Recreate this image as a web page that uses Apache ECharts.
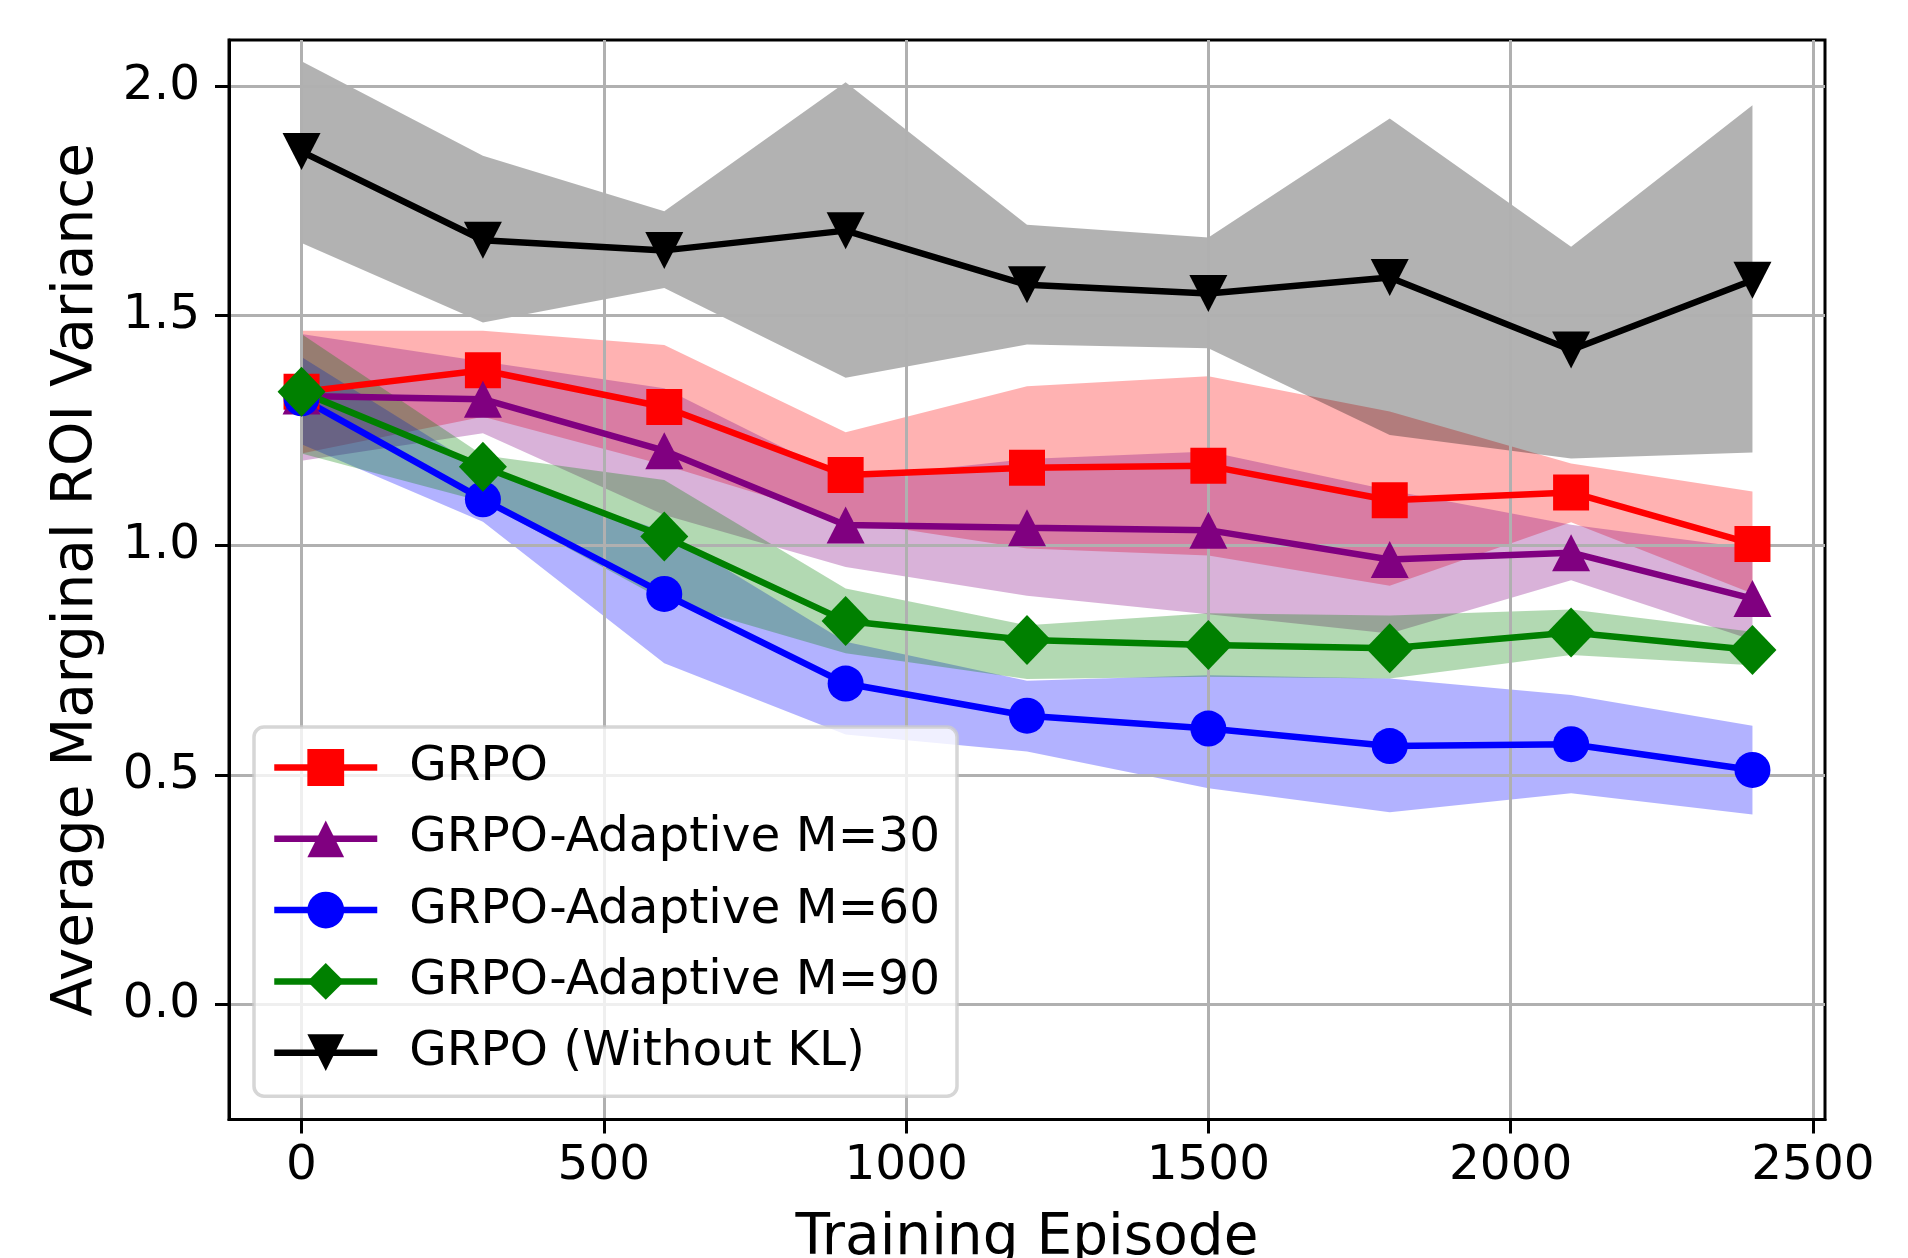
<!DOCTYPE html>
<html>
<head>
<meta charset="utf-8">
<title>Average Marginal ROI Variance</title>
<script src="https://cdn.jsdelivr.net/npm/echarts@6/dist/echarts.min.js"></script>
<style>
  html, body { margin: 0; padding: 0; background: #fff; }
  #chart { width: 1908px; height: 1258px; }
</style>
</head>
<body>
<div id="chart"></div>
<script>
// 数据
var episodes = [0, 300, 600, 900, 1200, 1500, 1800, 2100, 2400];
var xTicks = [0, 500, 1000, 1500, 2000, 2500];
var yTicks = [0, 0.5, 1.0, 1.5, 2.0];

var grpoMean = [1.334, 1.381, 1.301, 1.153, 1.169, 1.173, 1.098, 1.115, 1.003];
var grpoUpper = [1.467, 1.467, 1.436, 1.246, 1.346, 1.368, 1.291, 1.178, 1.117];
var grpoLower = [1.200, 1.280, 1.175, 1.054, 0.993, 0.978, 0.912, 1.050, 0.895];

var m30Mean = [1.325, 1.318, 1.206, 1.044, 1.038, 1.033, 0.969, 0.984, 0.884];
var m30Upper = [1.460, 1.400, 1.342, 1.145, 1.188, 1.204, 1.120, 1.045, 0.993];
var m30Lower = [1.184, 1.244, 1.066, 0.953, 0.890, 0.850, 0.808, 0.924, 0.794];

var m60Mean = [1.320, 1.100, 0.894, 0.699, 0.629, 0.601, 0.563, 0.567, 0.511];
var m60Upper = [1.410, 1.164, 1.030, 0.790, 0.705, 0.717, 0.710, 0.674, 0.607];
var m60Lower = [1.220, 1.051, 0.743, 0.588, 0.551, 0.471, 0.419, 0.460, 0.414];

var m90Mean = [1.334, 1.171, 1.019, 0.835, 0.794, 0.783, 0.776, 0.810, 0.772];
var m90Upper = [1.460, 1.196, 1.142, 0.906, 0.826, 0.852, 0.847, 0.860, 0.812];
var m90Lower = [1.200, 1.095, 0.880, 0.765, 0.709, 0.714, 0.710, 0.761, 0.739];

var noKlMean = [1.857, 1.664, 1.642, 1.685, 1.567, 1.548, 1.583, 1.425, 1.577];
var noKlUpper = [2.054, 1.848, 1.727, 2.008, 1.698, 1.670, 1.929, 1.650, 1.958];
var noKlLower = [1.658, 1.485, 1.560, 1.365, 1.437, 1.429, 1.240, 1.189, 1.202];

var FONT = 'DejaVu Sans';

// 误差带 (fill_between)
function bandSeries(upper, lower, color) {
  return {
    type: 'custom',
    z: 1,
    silent: true,
    animation: false,
    data: [[0, 0]],
    renderItem: function (params, api) {
      var pts = [];
      for (var i = 0; i < episodes.length; i++) {
        pts.push(api.coord([episodes[i], upper[i]]));
      }
      for (var j = episodes.length - 1; j >= 0; j--) {
        pts.push(api.coord([episodes[j], lower[j]]));
      }
      return {
        type: 'polygon',
        shape: { points: pts },
        style: { fill: color, opacity: 0.3 }
      };
    }
  };
}

// 折线
function lineSeries(name, mean, color, symbol, size, rotate) {
  return {
    name: name,
    type: 'line',
    z: 3,
    animation: false,
    data: episodes.map(function (x, i) { return [x, mean[i]]; }),
    symbol: symbol,
    symbolSize: size,
    symbolRotate: rotate || 0,
    showAllSymbol: true,
    lineStyle: { color: color, width: 6.5 },
    itemStyle: { color: color, opacity: 1 }
  };
}

var chart = echarts.init(document.getElementById('chart'));

var option = {
  backgroundColor: '#fff',
  grid: {
    left: 229,
    right: 83,
    top: 40,
    bottom: 138.5,
    outerBoundsMode: 'none',
    containLabel: false,
    show: true,
    borderColor: '#000',
    borderWidth: 3,
    backgroundColor: 'transparent'
  },
  legend: {
    orient: 'vertical',
    left: 254,
    top: 727,
    padding: [16, 17, 19, 17],
    itemWidth: 103,
    itemHeight: 46,
    itemGap: 22.3,
    backgroundColor: 'rgba(255,255,255,0.8)',
    borderColor: 'rgba(204,204,204,0.8)',
    borderWidth: 3.5,
    borderRadius: 10,
    lineStyle: { width: 6.5 },
    textStyle: {
      fontFamily: FONT,
      fontSize: 48.5,
      lineHeight: 46,
      color: '#000',
      padding: [0, 0, 0, 27]
    },
    data: ['GRPO', 'GRPO-Adaptive M=30', 'GRPO-Adaptive M=60', 'GRPO-Adaptive M=90', 'GRPO (Without KL)']
  },
  xAxis: {
    type: 'value',
    min: -120,
    max: 2520,
    z: 2,
    name: 'Training Episode',
    nameLocation: 'middle',
    nameGap: 91,
    nameTextStyle: { fontFamily: FONT, fontSize: 56.5, color: '#000' },
    axisLine: { show: true, onZero: false, lineStyle: { color: '#000', width: 3 } },
    axisTick: { show: true, length: 14, customValues: xTicks, lineStyle: { color: '#000', width: 3 } },
    axisLabel: {
      customValues: xTicks,
      margin: 22,
      fontFamily: FONT,
      fontSize: 48.5,
      color: '#000',
      formatter: function (v) { return String(v); }
    },
    splitLine: { show: true, lineStyle: { color: '#b0b0b0', width: 3 } }
  },
  yAxis: {
    type: 'value',
    min: -0.25,
    max: 2.1,
    z: 2,
    name: 'Average Marginal ROI Variance',
    nameLocation: 'middle',
    nameGap: 123,
    nameRotate: 90,
    nameTextStyle: { fontFamily: FONT, fontSize: 56.5, color: '#000' },
    axisLine: { show: true, onZero: false, lineStyle: { color: '#000', width: 3 } },
    axisTick: { show: true, length: 14, customValues: yTicks, lineStyle: { color: '#000', width: 3 } },
    axisLabel: {
      customValues: yTicks,
      margin: 29,
      fontFamily: FONT,
      fontSize: 48.5,
      color: '#000',
      formatter: function (v) { return v.toFixed(1); }
    },
    splitLine: { show: true, lineStyle: { color: '#b0b0b0', width: 3 } }
  },
  series: [
    bandSeries(grpoUpper, grpoLower, '#ff0000'),
    bandSeries(m30Upper, m30Lower, '#800080'),
    bandSeries(m60Upper, m60Lower, '#0000ff'),
    bandSeries(m90Upper, m90Lower, '#008000'),
    bandSeries(noKlUpper, noKlLower, '#000000'),
    lineSeries('GRPO', grpoMean, '#ff0000', 'rect', 36),
    lineSeries('GRPO-Adaptive M=30', m30Mean, '#800080', 'triangle', [38, 37]),
    lineSeries('GRPO-Adaptive M=60', m60Mean, '#0000ff', 'circle', 36),
    lineSeries('GRPO-Adaptive M=90', m90Mean, '#008000', 'diamond', [48, 50]),
    lineSeries('GRPO (Without KL)', noKlMean, '#000000', 'triangle', [38, 37], 180)
  ]
};

chart.setOption(option);
</script>
</body>
</html>
